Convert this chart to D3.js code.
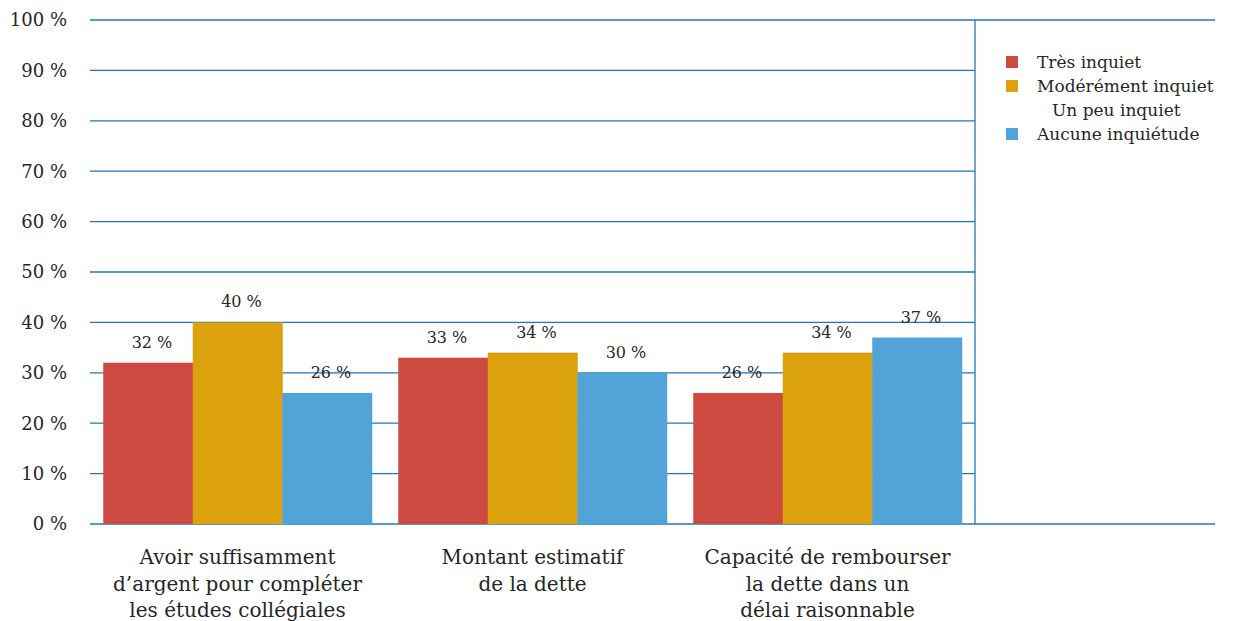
<!DOCTYPE html>
<html>
<head>
<meta charset="utf-8">
<script src="https://cdn.jsdelivr.net/npm/d3@7"></script>
<style>
  body { margin: 0; background: #fff; }
  text { font-family: "DejaVu Serif", serif; fill: #262626; }
</style>
</head>
<body>
<svg id="chart" width="1243" height="621"></svg>
<script>
// data
const categories = [
    ["Avoir suffisamment", "d’argent pour compléter", "les études collégiales"],
    ["Montant estimatif", "de la dette"],
    ["Capacité de rembourser", "la dette dans un", "délai raisonnable"]
];
const series = ["Très inquiet", "Modérément inquiet", "Aucune inquiétude"];
const legendItems = ["Très inquiet", "Modérément inquiet", "Un peu inquiet", "Aucune inquiétude"];
const tresInquiet = [32, 33, 26];
const moderement = [40, 34, 34];
const aucune = [26, 30, 37];
const yTicks = [0, 10, 20, 30, 40, 50, 60, 70, 80, 90, 100];

const colors = {
    "Très inquiet": "#cd4a41",
    "Modérément inquiet": "#dba20e",
    "Un peu inquiet": "none",
    "Aucune inquiétude": "#52a4d8"
};
const gridColor = "#2079b4";

const svg = d3.select("#chart");
const margin = { left: 90, top: 20, bottom: 524 },
    plotRight = 975,
    boxRight = 1215;

const y = d3.scaleLinear().domain([0, 100]).range([margin.bottom, margin.top]);
const x0 = d3.scaleBand().domain(d3.range(categories.length)).range([margin.left, plotRight]);
const x1 = d3.scaleBand().domain(series).range([0, x0.bandwidth()]).paddingOuter(0.148);

// gridlines
svg.append("g")
    .selectAll("line")
    .data(yTicks)
    .join("line")
    .attr("x1", margin.left)
    .attr("x2", d => (d === 0 || d === 100) ? boxRight : plotRight)
    .attr("y1", d => y(d))
    .attr("y2", d => y(d))
    .attr("stroke", gridColor)
    .attr("stroke-width", 1.3);

// separator for legend area
svg.append("line")
    .attr("x1", plotRight).attr("x2", plotRight)
    .attr("y1", y(100)).attr("y2", y(0))
    .attr("stroke", gridColor)
    .attr("stroke-width", 1.3);

// y labels
svg.append("g")
    .selectAll("text")
    .data(yTicks)
    .join("text")
    .attr("x", 67)
    .attr("y", d => y(d))
    .attr("dy", "0.35em")
    .attr("text-anchor", "end")
    .style("font-size", "18px")
    .text(d => d + " %");

const rows = categories.map((c, i) => [
    { key: series[0], v: tresInquiet[i] },
    { key: series[1], v: moderement[i] },
    { key: series[2], v: aucune[i] }
]);

const groups = svg.append("g")
    .selectAll("g")
    .data(rows)
    .join("g")
    .attr("transform", (d, i) => `translate(${x0(i)},0)`);

groups.selectAll("rect")
    .data(d => d)
    .join("rect")
    .attr("x", d => x1(d.key))
    .attr("y", d => y(d.v))
    .attr("width", x1.bandwidth() + 0.5)
    .attr("height", d => y(0) - y(d.v))
    .attr("fill", d => colors[d.key]);

groups.selectAll("text")
    .data(d => d)
    .join("text")
    .attr("x", d => x1(d.key) + x1.bandwidth() / 2 + 4)
    .attr("y", d => y(d.v) - 15)
    .attr("text-anchor", "middle")
    .style("font-size", "16px")
    .text(d => d.v + " %");

// category labels
svg.append("g")
    .selectAll("text")
    .data(categories)
    .join("text")
    .attr("text-anchor", "middle")
    .style("font-size", "20px")
    .attr("transform", (d, i) => `translate(${x0(i) + x0.bandwidth() / 2},564)`)
    .selectAll("tspan")
    .data(d => d)
    .join("tspan")
    .attr("x", 0)
    .attr("y", (d, j) => j * 26.5)
    .text(d => d);

// legend
const legend = svg.append("g")
    .attr("transform", "translate(1006,62)");

const li = legend.selectAll("g")
    .data(legendItems)
    .join("g")
    .attr("transform", (d, i) => `translate(0,${i * 24})`);

li.append("rect")
    .attr("x", 0).attr("y", -6)
    .attr("width", 12).attr("height", 12)
    .attr("fill", d => colors[d]);

li.append("text")
    .attr("x", d => colors[d] === "none" ? 46 : 31)
    .attr("y", 0)
    .attr("dy", "0.35em")
    .style("font-size", "17px")
    .text(d => d);
</script>
</body>
</html>
